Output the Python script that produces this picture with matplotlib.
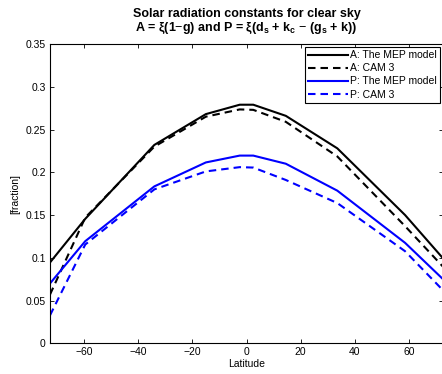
import matplotlib
matplotlib.use("Agg")
import matplotlib.pyplot as plt

plt.rcParams['font.family'] = ['Liberation Sans', 'DejaVu Sans']
plt.rcParams['mathtext.fontset'] = 'custom'
plt.rcParams['mathtext.rm'] = 'Liberation Sans'
plt.rcParams['mathtext.bf'] = 'Liberation Sans:bold'

lat = [-72.5, -59.5, -34, -15, -2.5, 2.5, 14.5, 33.5, 58.5, 72.5]
a_mep = [0.0945, 0.1455, 0.232, 0.268, 0.279, 0.279, 0.266, 0.228, 0.150, 0.0994]
a_cam = [0.057, 0.147, 0.230, 0.265, 0.2735, 0.273, 0.259, 0.2185, 0.137, 0.0896]
p_mep = [0.070, 0.1194, 0.1835, 0.2115, 0.2195, 0.2195, 0.210, 0.1785, 0.1175, 0.075]
p_cam = [0.0327, 0.1155, 0.180, 0.201, 0.206, 0.2055, 0.191, 0.164, 0.1077, 0.062]

labels = ["A: The MEP model", "A: CAM 3", "P: The MEP model", "P: CAM 3"]
xticks = [-60, -40, -20, 0, 20, 40, 60]
yticks = [0, 0.05, 0.1, 0.15, 0.2, 0.25, 0.3, 0.35]
ytick_labels = ["0", "0.05", "0.1", "0.15", "0.2", "0.25", "0.3", "0.35"]

fig = plt.figure(figsize=(4.42, 3.74), dpi=100)
ax = fig.add_axes([50/442, 1-343.3/374, 393/442, 299.3/374])

dash = (3.6, 2.4)
ax.plot(lat, a_mep, color='black', lw=1.5, label=labels[0])
ax.plot(lat, a_cam, color='black', lw=1.5, ls=(0, dash), label=labels[1])
ax.plot(lat, p_mep, color='#0000ff', lw=1.5, label=labels[2])
ax.plot(lat, p_cam, color='#0000ff', lw=1.5, ls=(0, dash), label=labels[3])

ax.set_xlim(-72.5, 72.5)
ax.set_ylim(0, 0.35)
ax.set_xticks(xticks)
ax.set_xticklabels([str(t).replace('-', '\u2212') for t in xticks])
ax.set_yticks(yticks)
ax.set_yticklabels(ytick_labels)
ax.tick_params(direction='in', top=True, right=True, length=3, width=0.6,
               labelsize=7.5, pad=3)
for s in ax.spines.values():
    s.set_linewidth(0.8)

ax.set_xlabel("Latitude", fontsize=7.5, labelpad=1)
ax.set_ylabel("[fraction]", fontsize=7.5, labelpad=4)

title1 = "Solar radiation constants for clear sky"
title2 = (r"A = ξ(1$-$g) and P = ξ(d$_{\mathbf{s}}$ + k$_{\mathbf{c}}$ $-$ (g$_{\mathbf{s}}$ + k))")
ax.set_title(title1 + "\n" + title2, fontsize=9, fontweight='bold',
             pad=9, linespacing=1.0)

leg = ax.legend(loc='upper right', fontsize=7.5, frameon=True, fancybox=False,
                edgecolor='black', framealpha=1, borderaxespad=0.3,
                handlelength=3.8, handletextpad=0.2, labelspacing=0.3,
                borderpad=0.3)
leg.get_frame().set_linewidth(0.8)

fig.savefig("out.png", dpi=100)
